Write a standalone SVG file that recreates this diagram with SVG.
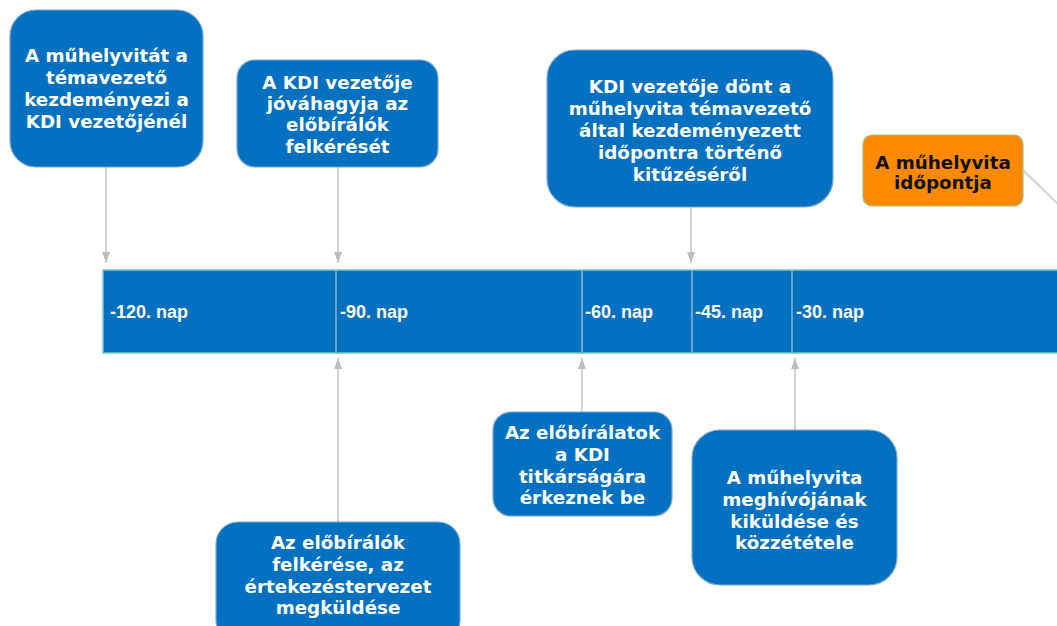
<svg xmlns="http://www.w3.org/2000/svg" width="1057" height="626" viewBox="0 0 1057 626">
<defs>
<style>
.box{fill:#0070C0;stroke:#7FA6D4;stroke-width:1.2}
.orange{fill:#FF8A00;stroke:#9CC08A;stroke-width:1.2}
.bt{font-family:"DejaVu Sans",Verdana,sans-serif;font-weight:bold;font-size:18.3px;fill:#FFFFFF;text-anchor:middle}
.ot{font-family:"DejaVu Sans",Verdana,sans-serif;font-weight:bold;font-size:18.3px;fill:#111111;text-anchor:middle}
.nap{font-family:"Liberation Sans",Arial,sans-serif;font-weight:bold;font-size:18px;fill:#FFFFFF}
.conn{stroke:#D2D2D2;stroke-width:2;fill:none}
.div{stroke:#8FB6D8;stroke-width:1.5}
</style>
<marker id="arr" markerWidth="11" markerHeight="8" refX="11" refY="4" orient="auto" markerUnits="userSpaceOnUse">
<path d="M0,0 L11,4 L0,8 Z" fill="#BDBDBD"/>
</marker>
</defs>
<rect width="1057" height="626" fill="#FFFFFF"/>

<g id="timeline">
<rect x="103" y="270" width="960" height="83" fill="#0070C0" stroke="#7CC6C2" stroke-width="1.5"/>
<line class="div" x1="336" y1="271" x2="336" y2="352"/>
<line class="div" x1="582" y1="271" x2="582" y2="352"/>
<line class="div" x1="692" y1="271" x2="692" y2="352"/>
<line class="div" x1="792" y1="271" x2="792" y2="352"/>
<text class="nap" x="110" y="318">-120. nap</text>
<text class="nap" x="340" y="318">-90. nap</text>
<text class="nap" x="585" y="318">-60. nap</text>
<text class="nap" x="695" y="318">-45. nap</text>
<text class="nap" x="796" y="318">-30. nap</text>
</g>

<g id="connectors">
<line class="conn" x1="106" y1="167" x2="106" y2="263" marker-end="url(#arr)"/>
<line class="conn" x1="338" y1="167" x2="338" y2="263" marker-end="url(#arr)"/>
<line class="conn" x1="691" y1="207" x2="691" y2="263" marker-end="url(#arr)"/>
<polyline class="conn" points="1023,170 1062,208 1062,262" marker-end="url(#arr)"/>
<line class="conn" x1="338" y1="522" x2="338" y2="358" marker-end="url(#arr)"/>
<line class="conn" x1="582" y1="412" x2="582" y2="358" marker-end="url(#arr)"/>
<line class="conn" x1="795" y1="430" x2="795" y2="358" marker-end="url(#arr)"/>
</g>

<g id="node1">
<rect class="box" x="10" y="10" width="193" height="157" rx="26"/>
<text class="bt" x="106.5" y="62">A műhelyvitát a</text>
<text class="bt" x="106.5" y="84">témavezető</text>
<text class="bt" x="106.5" y="106">kezdeményezi a</text>
<text class="bt" x="106.5" y="128">KDI vezetőjénél</text>
</g>

<g id="node2">
<rect class="box" x="237" y="60" width="201" height="107" rx="18"/>
<text class="bt" x="337.5" y="89">A KDI vezetője</text>
<text class="bt" x="337.5" y="110">jóváhagyja az</text>
<text class="bt" x="337.5" y="131">előbírálók</text>
<text class="bt" x="337.5" y="153">felkérését</text>
</g>

<g id="node3">
<rect class="box" x="547" y="50" width="286" height="157" rx="28"/>
<text class="bt" x="690" y="93">KDI vezetője dönt a</text>
<text class="bt" x="690" y="115">műhelyvita témavezető</text>
<text class="bt" x="690" y="137">által kezdeményezett</text>
<text class="bt" x="690" y="159">időpontra történő</text>
<text class="bt" x="690" y="181">kitűzéséről</text>
</g>

<g id="node4">
<rect class="orange" x="863" y="135" width="160" height="71" rx="9"/>
<text class="ot" x="943" y="169">A műhelyvita</text>
<text class="ot" x="943" y="189">időpontja</text>
</g>

<g id="node5">
<rect class="box" x="216" y="522" width="244" height="120" rx="22"/>
<text class="bt" x="338" y="549">Az előbírálók</text>
<text class="bt" x="338" y="571">felkérése, az</text>
<text class="bt" x="338" y="593">értekezéstervezet</text>
<text class="bt" x="338" y="614">megküldése</text>
</g>

<g id="node6">
<rect class="box" x="493" y="412" width="179" height="104" rx="18"/>
<text class="bt" x="582.5" y="439">Az előbírálatok</text>
<text class="bt" x="582.5" y="461">a KDI</text>
<text class="bt" x="582.5" y="483">titkárságára</text>
<text class="bt" x="582.5" y="504">érkeznek be</text>
</g>

<g id="node7">
<rect class="box" x="692" y="430" width="205" height="155" rx="28"/>
<text class="bt" x="794.5" y="484">A műhelyvita</text>
<text class="bt" x="794.5" y="506">meghívójának</text>
<text class="bt" x="794.5" y="528">kiküldése és</text>
<text class="bt" x="794.5" y="549">közzététele</text>
</g>
</svg>
